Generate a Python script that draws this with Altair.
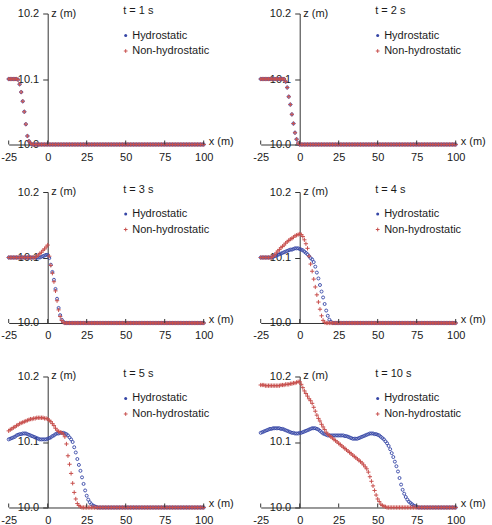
import altair as alt
import pandas as pd

# ---------------- data ----------------
x_m = list(range(-25, 101))            # sampling positions (m), 1 m apart
x_ticks = [-25, 0, 25, 50, 75, 100]
z_ticks = [10.0, 10.1, 10.2]
times = ["t = 1 s", "t = 2 s", "t = 3 s", "t = 4 s", "t = 5 s", "t = 10 s"]
series_names = ["Hydrostatic", "Non-hydrostatic"]

hydro_t1 = [
    10.100, 10.100, 10.100, 10.100, 10.100, 10.100, 10.099, 10.092, 10.080, 10.066,
    10.050, 10.031, 10.013, 10.005, 10.002, 10.000, 10.0, 10.0, 10.0, 10.0,
    10.0, 10.0, 10.0, 10.0, 10.0, 10.0, 10.0, 10.0, 10.0, 10.0,
    10.0, 10.0, 10.0, 10.0, 10.0, 10.0, 10.0, 10.0, 10.0, 10.0,
    10.0, 10.0, 10.0, 10.0, 10.0, 10.0, 10.0, 10.0, 10.0, 10.0,
    10.0, 10.0, 10.0, 10.0, 10.0, 10.0, 10.0, 10.0, 10.0, 10.0,
    10.0, 10.0, 10.0, 10.0, 10.0, 10.0, 10.0, 10.0, 10.0, 10.0,
    10.0, 10.0, 10.0, 10.0, 10.0, 10.0, 10.0, 10.0, 10.0, 10.0,
    10.0, 10.0, 10.0, 10.0, 10.0, 10.0, 10.0, 10.0, 10.0, 10.0,
    10.0, 10.0, 10.0, 10.0, 10.0, 10.0, 10.0, 10.0, 10.0, 10.0,
    10.0, 10.0, 10.0, 10.0, 10.0, 10.0, 10.0, 10.0, 10.0, 10.0,
    10.0, 10.0, 10.0, 10.0, 10.0, 10.0, 10.0, 10.0, 10.0, 10.0,
    10.0, 10.0, 10.0, 10.0, 10.0, 10.0,
]
non_t1 = [
    10.100, 10.100, 10.100, 10.100, 10.100, 10.100, 10.099, 10.092, 10.080, 10.066,
    10.050, 10.031, 10.013, 10.005, 10.002, 10.000, 10.0, 10.0, 10.0, 10.0,
    10.0, 10.0, 10.0, 10.0, 10.0, 10.0, 10.0, 10.0, 10.0, 10.0,
    10.0, 10.0, 10.0, 10.0, 10.0, 10.0, 10.0, 10.0, 10.0, 10.0,
    10.0, 10.0, 10.0, 10.0, 10.0, 10.0, 10.0, 10.0, 10.0, 10.0,
    10.0, 10.0, 10.0, 10.0, 10.0, 10.0, 10.0, 10.0, 10.0, 10.0,
    10.0, 10.0, 10.0, 10.0, 10.0, 10.0, 10.0, 10.0, 10.0, 10.0,
    10.0, 10.0, 10.0, 10.0, 10.0, 10.0, 10.0, 10.0, 10.0, 10.0,
    10.0, 10.0, 10.0, 10.0, 10.0, 10.0, 10.0, 10.0, 10.0, 10.0,
    10.0, 10.0, 10.0, 10.0, 10.0, 10.0, 10.0, 10.0, 10.0, 10.0,
    10.0, 10.0, 10.0, 10.0, 10.0, 10.0, 10.0, 10.0, 10.0, 10.0,
    10.0, 10.0, 10.0, 10.0, 10.0, 10.0, 10.0, 10.0, 10.0, 10.0,
    10.0, 10.0, 10.0, 10.0, 10.0, 10.0,
]
hydro_t2 = [
    10.1, 10.1, 10.1, 10.1, 10.1, 10.1, 10.1, 10.1, 10.1, 10.1,
    10.1, 10.1, 10.1, 10.1, 10.1, 10.100, 10.096, 10.087, 10.073, 10.061,
    10.046, 10.032, 10.018, 10.008, 10.002, 10.000, 10.0, 10.0, 10.0, 10.0,
    10.0, 10.0, 10.0, 10.0, 10.0, 10.0, 10.0, 10.0, 10.0, 10.0,
    10.0, 10.0, 10.0, 10.0, 10.0, 10.0, 10.0, 10.0, 10.0, 10.0,
    10.0, 10.0, 10.0, 10.0, 10.0, 10.0, 10.0, 10.0, 10.0, 10.0,
    10.0, 10.0, 10.0, 10.0, 10.0, 10.0, 10.0, 10.0, 10.0, 10.0,
    10.0, 10.0, 10.0, 10.0, 10.0, 10.0, 10.0, 10.0, 10.0, 10.0,
    10.0, 10.0, 10.0, 10.0, 10.0, 10.0, 10.0, 10.0, 10.0, 10.0,
    10.0, 10.0, 10.0, 10.0, 10.0, 10.0, 10.0, 10.0, 10.0, 10.0,
    10.0, 10.0, 10.0, 10.0, 10.0, 10.0, 10.0, 10.0, 10.0, 10.0,
    10.0, 10.0, 10.0, 10.0, 10.0, 10.0, 10.0, 10.0, 10.0, 10.0,
    10.0, 10.0, 10.0, 10.0, 10.0, 10.0,
]
non_t2 = [
    10.1, 10.1, 10.1, 10.1, 10.1, 10.1, 10.1, 10.1, 10.1, 10.1,
    10.1, 10.1, 10.1, 10.1, 10.1, 10.100, 10.096, 10.087, 10.073, 10.061,
    10.046, 10.032, 10.018, 10.008, 10.002, 10.000, 10.0, 10.0, 10.0, 10.0,
    10.0, 10.0, 10.0, 10.0, 10.0, 10.0, 10.0, 10.0, 10.0, 10.0,
    10.0, 10.0, 10.0, 10.0, 10.0, 10.0, 10.0, 10.0, 10.0, 10.0,
    10.0, 10.0, 10.0, 10.0, 10.0, 10.0, 10.0, 10.0, 10.0, 10.0,
    10.0, 10.0, 10.0, 10.0, 10.0, 10.0, 10.0, 10.0, 10.0, 10.0,
    10.0, 10.0, 10.0, 10.0, 10.0, 10.0, 10.0, 10.0, 10.0, 10.0,
    10.0, 10.0, 10.0, 10.0, 10.0, 10.0, 10.0, 10.0, 10.0, 10.0,
    10.0, 10.0, 10.0, 10.0, 10.0, 10.0, 10.0, 10.0, 10.0, 10.0,
    10.0, 10.0, 10.0, 10.0, 10.0, 10.0, 10.0, 10.0, 10.0, 10.0,
    10.0, 10.0, 10.0, 10.0, 10.0, 10.0, 10.0, 10.0, 10.0, 10.0,
    10.0, 10.0, 10.0, 10.0, 10.0, 10.0,
]
hydro_t3 = [
    10.1, 10.1, 10.1, 10.1, 10.1, 10.1, 10.1, 10.1, 10.1, 10.1,
    10.1, 10.1, 10.1, 10.1, 10.1, 10.1, 10.1, 10.1, 10.1, 10.1,
    10.100, 10.101, 10.102, 10.103, 10.104, 10.104, 10.099, 10.089, 10.078, 10.066,
    10.052, 10.037, 10.023, 10.012, 10.005, 10.002, 10.000, 10.0, 10.0, 10.0,
    10.0, 10.0, 10.0, 10.0, 10.0, 10.0, 10.0, 10.0, 10.0, 10.0,
    10.0, 10.0, 10.0, 10.0, 10.0, 10.0, 10.0, 10.0, 10.0, 10.0,
    10.0, 10.0, 10.0, 10.0, 10.0, 10.0, 10.0, 10.0, 10.0, 10.0,
    10.0, 10.0, 10.0, 10.0, 10.0, 10.0, 10.0, 10.0, 10.0, 10.0,
    10.0, 10.0, 10.0, 10.0, 10.0, 10.0, 10.0, 10.0, 10.0, 10.0,
    10.0, 10.0, 10.0, 10.0, 10.0, 10.0, 10.0, 10.0, 10.0, 10.0,
    10.0, 10.0, 10.0, 10.0, 10.0, 10.0, 10.0, 10.0, 10.0, 10.0,
    10.0, 10.0, 10.0, 10.0, 10.0, 10.0, 10.0, 10.0, 10.0, 10.0,
    10.0, 10.0, 10.0, 10.0, 10.0, 10.0,
]
non_t3 = [
    10.1, 10.1, 10.1, 10.1, 10.1, 10.1, 10.1, 10.1, 10.1, 10.1,
    10.1, 10.1, 10.1, 10.1, 10.1, 10.1, 10.1, 10.100, 10.102, 10.104,
    10.106, 10.108, 10.111, 10.113, 10.116, 10.119, 10.102, 10.088, 10.076, 10.063,
    10.049, 10.034, 10.020, 10.010, 10.004, 10.001, 10.000, 10.0, 10.0, 10.0,
    10.0, 10.0, 10.0, 10.0, 10.0, 10.0, 10.0, 10.0, 10.0, 10.0,
    10.0, 10.0, 10.0, 10.0, 10.0, 10.0, 10.0, 10.0, 10.0, 10.0,
    10.0, 10.0, 10.0, 10.0, 10.0, 10.0, 10.0, 10.0, 10.0, 10.0,
    10.0, 10.0, 10.0, 10.0, 10.0, 10.0, 10.0, 10.0, 10.0, 10.0,
    10.0, 10.0, 10.0, 10.0, 10.0, 10.0, 10.0, 10.0, 10.0, 10.0,
    10.0, 10.0, 10.0, 10.0, 10.0, 10.0, 10.0, 10.0, 10.0, 10.0,
    10.0, 10.0, 10.0, 10.0, 10.0, 10.0, 10.0, 10.0, 10.0, 10.0,
    10.0, 10.0, 10.0, 10.0, 10.0, 10.0, 10.0, 10.0, 10.0, 10.0,
    10.0, 10.0, 10.0, 10.0, 10.0, 10.0,
]
hydro_t4 = [
    10.1, 10.1, 10.1, 10.1, 10.1, 10.1, 10.1, 10.1, 10.101, 10.102,
    10.103, 10.104, 10.105, 10.106, 10.107, 10.108, 10.109, 10.110, 10.111, 10.112,
    10.112, 10.113, 10.114, 10.114, 10.114, 10.113, 10.112, 10.111, 10.109, 10.107,
    10.105, 10.102, 10.099, 10.097, 10.093, 10.086, 10.077, 10.068, 10.058, 10.048,
    10.039, 10.029, 10.019, 10.011, 10.005, 10.002, 10.000, 10.0, 10.0, 10.0,
    10.0, 10.0, 10.0, 10.0, 10.0, 10.0, 10.0, 10.0, 10.0, 10.0,
    10.0, 10.0, 10.0, 10.0, 10.0, 10.0, 10.0, 10.0, 10.0, 10.0,
    10.0, 10.0, 10.0, 10.0, 10.0, 10.0, 10.0, 10.0, 10.0, 10.0,
    10.0, 10.0, 10.0, 10.0, 10.0, 10.0, 10.0, 10.0, 10.0, 10.0,
    10.0, 10.0, 10.0, 10.0, 10.0, 10.0, 10.0, 10.0, 10.0, 10.0,
    10.0, 10.0, 10.0, 10.0, 10.0, 10.0, 10.0, 10.0, 10.0, 10.0,
    10.0, 10.0, 10.0, 10.0, 10.0, 10.0, 10.0, 10.0, 10.0, 10.0,
    10.0, 10.0, 10.0, 10.0, 10.0, 10.0,
]
non_t4 = [
    10.1, 10.1, 10.1, 10.1, 10.1, 10.1, 10.1, 10.100, 10.102, 10.104,
    10.107, 10.110, 10.112, 10.115, 10.117, 10.119, 10.122, 10.124, 10.126, 10.128,
    10.129, 10.131, 10.133, 10.134, 10.135, 10.136, 10.135, 10.132, 10.127, 10.121,
    10.114, 10.102, 10.090, 10.079, 10.067, 10.055, 10.043, 10.032, 10.021, 10.011,
    10.004, 10.001, 10.000, 10.0, 10.0, 10.0, 10.0, 10.0, 10.0, 10.0,
    10.0, 10.0, 10.0, 10.0, 10.0, 10.0, 10.0, 10.0, 10.0, 10.0,
    10.0, 10.0, 10.0, 10.0, 10.0, 10.0, 10.0, 10.0, 10.0, 10.0,
    10.0, 10.0, 10.0, 10.0, 10.0, 10.0, 10.0, 10.0, 10.0, 10.0,
    10.0, 10.0, 10.0, 10.0, 10.0, 10.0, 10.0, 10.0, 10.0, 10.0,
    10.0, 10.0, 10.0, 10.0, 10.0, 10.0, 10.0, 10.0, 10.0, 10.0,
    10.0, 10.0, 10.0, 10.0, 10.0, 10.0, 10.0, 10.0, 10.0, 10.0,
    10.0, 10.0, 10.0, 10.0, 10.0, 10.0, 10.0, 10.0, 10.0, 10.0,
    10.0, 10.0, 10.0, 10.0, 10.0, 10.0,
]
hydro_t5 = [
    10.104, 10.105, 10.106, 10.107, 10.108, 10.110, 10.111, 10.112, 10.112, 10.113,
    10.113, 10.113, 10.112, 10.111, 10.110, 10.109, 10.108, 10.107, 10.106, 10.105,
    10.104, 10.104, 10.104, 10.104, 10.104, 10.105, 10.106, 10.107, 10.109, 10.110,
    10.112, 10.113, 10.113, 10.114, 10.114, 10.114, 10.113, 10.112, 10.110, 10.107,
    10.104, 10.100, 10.092, 10.084, 10.074, 10.065, 10.056, 10.046, 10.036, 10.026,
    10.018, 10.012, 10.008, 10.005, 10.003, 10.002, 10.001, 10.000, 10.0, 10.0,
    10.0, 10.0, 10.0, 10.0, 10.0, 10.0, 10.0, 10.0, 10.0, 10.0,
    10.0, 10.0, 10.0, 10.0, 10.0, 10.0, 10.0, 10.0, 10.0, 10.0,
    10.0, 10.0, 10.0, 10.0, 10.0, 10.0, 10.0, 10.0, 10.0, 10.0,
    10.0, 10.0, 10.0, 10.0, 10.0, 10.0, 10.0, 10.0, 10.0, 10.0,
    10.0, 10.0, 10.0, 10.0, 10.0, 10.0, 10.0, 10.0, 10.0, 10.0,
    10.0, 10.0, 10.0, 10.0, 10.0, 10.0, 10.0, 10.0, 10.0, 10.0,
    10.0, 10.0, 10.0, 10.0, 10.0, 10.0,
]
non_t5 = [
    10.117, 10.119, 10.120, 10.122, 10.123, 10.125, 10.126, 10.128, 10.129, 10.130,
    10.131, 10.132, 10.133, 10.134, 10.135, 10.135, 10.136, 10.136, 10.137, 10.137,
    10.137, 10.137, 10.137, 10.136, 10.136, 10.135, 10.133, 10.131, 10.128, 10.125,
    10.121, 10.118, 10.116, 10.115, 10.114, 10.112, 10.108, 10.097, 10.079, 10.066,
    10.052, 10.037, 10.023, 10.013, 10.006, 10.003, 10.001, 10.000, 10.0, 10.0,
    10.0, 10.0, 10.0, 10.0, 10.0, 10.0, 10.0, 10.0, 10.0, 10.0,
    10.0, 10.0, 10.0, 10.0, 10.0, 10.0, 10.0, 10.0, 10.0, 10.0,
    10.0, 10.0, 10.0, 10.0, 10.0, 10.0, 10.0, 10.0, 10.0, 10.0,
    10.0, 10.0, 10.0, 10.0, 10.0, 10.0, 10.0, 10.0, 10.0, 10.0,
    10.0, 10.0, 10.0, 10.0, 10.0, 10.0, 10.0, 10.0, 10.0, 10.0,
    10.0, 10.0, 10.0, 10.0, 10.0, 10.0, 10.0, 10.0, 10.0, 10.0,
    10.0, 10.0, 10.0, 10.0, 10.0, 10.0, 10.0, 10.0, 10.0, 10.0,
    10.0, 10.0, 10.0, 10.0, 10.0, 10.0,
]
hydro_t10 = [
    10.114, 10.115, 10.116, 10.117, 10.118, 10.119, 10.120, 10.120, 10.121, 10.121,
    10.121, 10.121, 10.121, 10.120, 10.120, 10.119, 10.118, 10.117, 10.116, 10.115,
    10.114, 10.114, 10.113, 10.113, 10.113, 10.114, 10.114, 10.115, 10.116, 10.117,
    10.118, 10.119, 10.120, 10.121, 10.121, 10.121, 10.120, 10.119, 10.117, 10.115,
    10.113, 10.112, 10.111, 10.110, 10.110, 10.110, 10.110, 10.110, 10.110, 10.110,
    10.110, 10.110, 10.110, 10.110, 10.109, 10.109, 10.108, 10.107, 10.106, 10.105,
    10.105, 10.105, 10.105, 10.106, 10.107, 10.108, 10.109, 10.110, 10.111, 10.112,
    10.113, 10.113, 10.113, 10.112, 10.112, 10.111, 10.110, 10.108, 10.106, 10.104,
    10.101, 10.098, 10.094, 10.089, 10.083, 10.077, 10.070, 10.063, 10.055, 10.045,
    10.035, 10.027, 10.021, 10.016, 10.012, 10.009, 10.007, 10.005, 10.003, 10.002,
    10.001, 10.000, 10.0, 10.0, 10.0, 10.0, 10.0, 10.0, 10.0, 10.0,
    10.0, 10.0, 10.0, 10.0, 10.0, 10.0, 10.0, 10.0, 10.0, 10.0,
    10.0, 10.0, 10.0, 10.0, 10.0, 10.0,
]
non_t10 = [
    10.187, 10.187, 10.187, 10.186, 10.186, 10.186, 10.186, 10.186, 10.186, 10.186,
    10.186, 10.186, 10.186, 10.187, 10.187, 10.187, 10.188, 10.188, 10.188, 10.189,
    10.189, 10.190, 10.190, 10.191, 10.192, 10.192, 10.188, 10.183, 10.178, 10.174,
    10.170, 10.166, 10.163, 10.159, 10.153, 10.147, 10.141, 10.136, 10.132, 10.127,
    10.123, 10.119, 10.115, 10.112, 10.110, 10.108, 10.106, 10.104, 10.102, 10.100,
    10.098, 10.096, 10.094, 10.092, 10.090, 10.088, 10.086, 10.084, 10.082, 10.080,
    10.078, 10.076, 10.074, 10.072, 10.070, 10.068, 10.065, 10.062, 10.059, 10.054,
    10.047, 10.040, 10.033, 10.026, 10.019, 10.013, 10.009, 10.005, 10.003, 10.002,
    10.001, 10.000, 10.0, 10.0, 10.0, 10.0, 10.0, 10.0, 10.0, 10.0,
    10.0, 10.0, 10.0, 10.0, 10.0, 10.0, 10.0, 10.0, 10.0, 10.0,
    10.0, 10.0, 10.0, 10.0, 10.0, 10.0, 10.0, 10.0, 10.0, 10.0,
    10.0, 10.0, 10.0, 10.0, 10.0, 10.0, 10.0, 10.0, 10.0, 10.0,
    10.0, 10.0, 10.0, 10.0, 10.0, 10.0,
]

hydro_all = [hydro_t1, hydro_t2, hydro_t3, hydro_t4, hydro_t5, hydro_t10]
non_all = [non_t1, non_t2, non_t3, non_t4, non_t5, non_t10]
for s in hydro_all + non_all:
    assert len(s) == len(x_m), len(s)

# ---------------- styling ----------------
W, H = 195, 131
Y_AXIS_PX = 39          # pixel position of x = 0 inside a panel
FONT = "Liberation Sans"
TXT = "#1a1a1a"
AX = "#333333"
BLUE = "#3646a6"
RED = "#c8504e"
PLUS = "M-1,0L1,0M0,-1L0,1"
FS = 11

XS = alt.Scale(domain=[-25, 100], nice=False, zero=False)
YS = alt.Scale(domain=[10.0, 10.2], nice=False, zero=False)
X_AXIS = alt.Axis(values=x_ticks, ticks=False, grid=False, title=None,
                  labelExpr="datum.value + ''",
                  labelFlush=False, labelPadding=7, labelOverlap=False,
                  domainColor=AX, domainWidth=1, labelColor=TXT,
                  labelFontSize=FS, labelFont=FONT)
Y_AXIS = alt.Axis(values=z_ticks, format=".1f", offset=-Y_AXIS_PX,
                  tickSize=5, tickColor=AX, tickWidth=1, grid=False,
                  title=None, labelPadding=4, labelFlush=False,
                  labelOverlap=False, domainColor=AX, domainWidth=1,
                  labelColor=TXT, labelFontSize=FS, labelFont=FONT)


def panel(title, hydro, non, extra_top=False):
    xenc = alt.X("x:Q", scale=XS, axis=X_AXIS)
    yenc = alt.Y("z:Q", scale=YS, axis=Y_AXIS)

    hyd = alt.Chart(pd.DataFrame({"x": x_m, "z": hydro})).mark_point(
        shape="circle", filled=False, size=9, strokeWidth=0.9,
        color=BLUE, opacity=1,
    ).encode(x=xenc, y=yenc)

    nonh = alt.Chart(pd.DataFrame({"x": x_m, "z": non})).mark_point(
        shape=PLUS, filled=False, size=18, strokeWidth=1,
        color=RED, opacity=1,
    ).encode(x=xenc, y=yenc)

    up_ticks = alt.Chart(pd.DataFrame({"x": x_ticks})).mark_rule(
        color=AX, strokeWidth=1
    ).encode(x=xenc, y=alt.datum(10.0), y2=alt.value(H - 4))

    def txt(label, x, y, **kw):
        return alt.Chart(pd.DataFrame({"t": [label]})).mark_text(
            align="left", baseline="middle", font=FONT, fontSize=FS,
            color=TXT, **kw
        ).encode(x=alt.value(x), y=alt.value(y), text="t:N")

    layers = [
        hyd, nonh, up_ticks,
        txt("z (m)", Y_AXIS_PX + 3.5, 0),
        txt("x (m)", W + 5, H - 3),
        txt(title, 114.5, -2.5),
        txt(series_names[0], 123.5, 22),
        txt(series_names[1], 123.5, 37.5),
        alt.Chart(pd.DataFrame({"t": [series_names[0]]})).mark_point(
            shape="circle", filled=True, size=9, color=BLUE, opacity=1
        ).encode(x=alt.value(117), y=alt.value(22)),
        alt.Chart(pd.DataFrame({"t": [series_names[1]]})).mark_point(
            shape=PLUS, filled=False, size=14, strokeWidth=1, color=RED,
            opacity=1
        ).encode(x=alt.value(117), y=alt.value(37.5)),
    ]
    if extra_top:
        # transparent spacer that reserves a little room above the panel
        layers.append(txt(" ", 114.5, -8.5, opacity=0))
    return alt.layer(*layers).properties(width=W, height=H)


panels = [panel(times[i], hydro_all[i], non_all[i], extra_top=(i >= 4))
          for i in range(6)]
rows = [alt.hconcat(panels[2 * r], panels[2 * r + 1], spacing=18)
        for r in range(3)]

chart = alt.vconcat(*rows, spacing=20.5).properties(
    padding={"left": 0.7, "top": 4.5, "right": 0, "bottom": 0},
    background="white",
).configure_view(stroke=None).configure_axis(labelOverlap=False)

chart.save("out.html", embed_options={"renderer": "svg", "actions": False})
